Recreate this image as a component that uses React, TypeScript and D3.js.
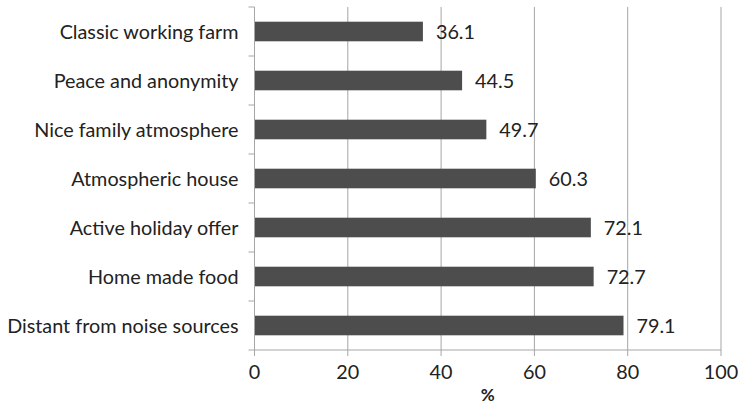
import { useEffect, useRef } from "react";
import * as d3 from "d3";

const categories = [
  "Classic working farm",
  "Peace and anonymity",
  "Nice family atmosphere",
  "Atmospheric house",
  "Active holiday offer",
  "Home made food",
  "Distant from noise sources",
];
const values = [36.1, 44.5, 49.7, 60.3, 72.1, 72.7, 79.1];
const xTicks = [0, 20, 40, 60, 80, 100];
const xTitle = "%";

const width = 739;
const height = 414;
const margin = { top: 7, right: 18, bottom: 64, left: 254.5 };
const font = "Lato, 'Open Sans', sans-serif";
const fs = 19.8;

const App = () => {
  const svgRef = useRef<SVGSVGElement>(null);

  useEffect(() => {
    const svg = d3.select(svgRef.current);
    svg.selectAll("*").remove();

    const x = d3
      .scaleLinear()
      .domain([0, 100])
      .range([margin.left, width - margin.right]);
    const y = d3
      .scaleBand()
      .domain(categories)
      .range([margin.top, height - margin.bottom]);
    const barH = y.bandwidth() * 0.4;

    // gridlines
    svg
      .append("g")
      .selectAll("line")
      .data(xTicks.filter((t) => t > 0))
      .enter()
      .append("line")
      .attr("x1", (d) => x(d))
      .attr("x2", (d) => x(d))
      .attr("y1", margin.top)
      .attr("y2", height - margin.bottom)
      .attr("stroke", "#a6a6a6")
      .attr("stroke-width", 1);

    // bars
    svg
      .append("g")
      .selectAll("rect")
      .data(values)
      .enter()
      .append("rect")
      .attr("x", x(0))
      .attr("y", (_d, i) => y(categories[i])! + (y.bandwidth() - barH) / 2)
      .attr("width", (d) => x(d) - x(0))
      .attr("height", barH)
      .attr("fill", "#4d4d4d");

    // value labels
    svg
      .append("g")
      .selectAll("text")
      .data(values)
      .enter()
      .append("text")
      .attr("x", (d) => x(d) + 13)
      .attr("y", (_d, i) => y(categories[i])! + y.bandwidth() / 2)
      .attr("dy", "0.36em")
      .attr("font-family", font)
      .attr("font-size", fs)
      .attr("fill", "#222")
      .text((d) => d.toFixed(1));

    // y axis
    const yAxis = svg
      .append("g")
      .attr("transform", `translate(${x(0)},0)`);
    yAxis
      .append("line")
      .attr("x1", 0)
      .attr("x2", 0)
      .attr("y1", margin.top)
      .attr("y2", height - margin.bottom)
      .attr("stroke", "#a6a6a6");
    const bounds = categories.map((c) => y(c)!).concat([height - margin.bottom]);
    yAxis
      .selectAll("line.tick")
      .data(bounds)
      .enter()
      .append("line")
      .attr("class", "tick")
      .attr("x1", -6)
      .attr("x2", 0)
      .attr("y1", (d) => d)
      .attr("y2", (d) => d)
      .attr("stroke", "#a6a6a6");
    yAxis
      .selectAll("text")
      .data(categories)
      .enter()
      .append("text")
      .attr("x", -16)
      .attr("y", (d) => y(d)! + y.bandwidth() / 2)
      .attr("dy", "0.36em")
      .attr("text-anchor", "end")
      .attr("font-family", font)
      .attr("font-size", fs)
      .attr("fill", "#222")
      .text((d) => d);

    // x axis
    const xAxis = svg
      .append("g")
      .attr("transform", `translate(0,${height - margin.bottom})`);
    xAxis
      .append("line")
      .attr("x1", x(0))
      .attr("x2", x(100))
      .attr("stroke", "#a6a6a6");
    xAxis
      .selectAll("line.tick")
      .data(xTicks)
      .enter()
      .append("line")
      .attr("class", "tick")
      .attr("x1", (d) => x(d))
      .attr("x2", (d) => x(d))
      .attr("y1", 0)
      .attr("y2", 6)
      .attr("stroke", "#a6a6a6");
    xAxis
      .selectAll("text")
      .data(xTicks)
      .enter()
      .append("text")
      .attr("x", (d) => x(d))
      .attr("y", 29)
      .attr("text-anchor", "middle")
      .attr("font-family", font)
      .attr("font-size", fs)
      .attr("fill", "#222")
      .text((d) => d);

    svg
      .append("text")
      .attr("x", (x(0) + x(100)) / 2)
      .attr("y", 401)
      .attr("text-anchor", "middle")
      .attr("font-family", font)
      .attr("font-size", 17)
      .attr("font-weight", "bold")
      .attr("fill", "#222")
      .text(xTitle);
  }, []);

  return (
    <svg
      ref={svgRef}
      width={width}
      height={height}
      style={{ position: "absolute", left: 0, top: 0 }}
    />
  );
};

export default App;
